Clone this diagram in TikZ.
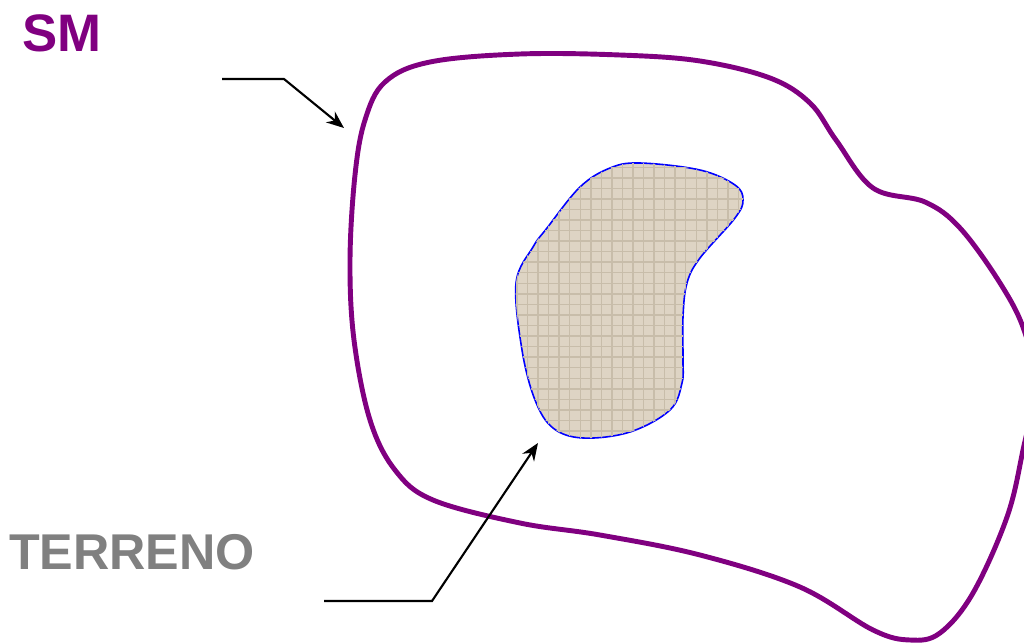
\documentclass[tikz,border=0pt]{standalone}
\usepackage{fontspec}
\setmainfont{Liberation Sans}
\usepackage{tikz}
\usetikzlibrary{arrows.meta,patterns}
\definecolor{smpurple}{RGB}{128,0,128}
\definecolor{terrgray}{RGB}{128,128,128}
\definecolor{soilfill}{RGB}{222,212,196}
\definecolor{soilgrain}{RGB}{200,189,170}

\begin{document}
\begin{tikzpicture}[x=0.01cm,y=-0.01cm,
  pointer/.style={-{Stealth[length=5pt,width=4pt]},line width=0.6pt,line join=miter},
  lbl/.style={font=\fontsize{14.3}{17}\selectfont\bfseries,inner sep=0pt}]
\useasboundingbox (0,0) rectangle (1024,642);
\clip (0,0) rectangle (1024,642);
\draw[smpurple,line width=1.4pt] plot[smooth cycle,tension=0.6] coordinates {
  (385,82) (430,62) (520,54) (620,55) (700,61) (770,78) (810,103) (836,140)
  (873,188) (925,202) (960,228) (1000,283) (1024,330) (1035,385) (1023,450)
  (1007,517) (973,593) (940,633) (910,640) (873,630) (800,587) (700,555)
  (600,535) (520,523) (433,500) (395,470) (370,420) (354,340) (350,260)
  (355,175) (365,120)};
\draw[blue,line width=0.45pt,fill=soilfill,postaction={pattern=grid,pattern color=soilgrain}]
  plot[smooth cycle,tension=0.6] coordinates {
  (640,163) (700,170) (735,185) (743,200) (735,218) (700,258) (687,283)
  (683,317) (683,360) (682,383) (670,410) (630,432) (583,438) (553,428)
  (535,400) (522,350) (516,283) (533,247) (547,228) (580,187) (610,168)};
\node[lbl,text=smpurple,font=\fontsize{15}{18}\selectfont\bfseries] (sm) at (62,33) {SM};
\node[lbl,text=terrgray] (terreno) at (132,552) {TERRENO};
\coordinate (smtail) at (222,79);
\coordinate (smbend) at (284,79);
\coordinate (smtip) at (344,128);
\coordinate (terrtail) at (324,601);
\coordinate (terrbend) at (432,601);
\coordinate (terrtip) at (538,443);
\draw[pointer] (smtail) -- (smbend) -- (smtip);
\draw[pointer] (terrtail) -- (terrbend) -- (terrtip);
\end{tikzpicture}
\end{document}
